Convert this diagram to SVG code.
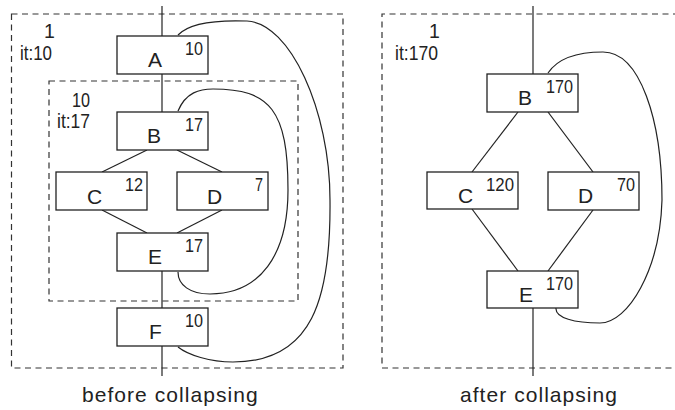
<svg xmlns="http://www.w3.org/2000/svg" width="675" height="410" viewBox="0 0 675 410">
  <style>
    .frame { fill: none; stroke: #333; stroke-width: 1.2; stroke-dasharray: 6 4.5; }
    .box { fill: #fff; stroke: #222; stroke-width: 1.3; }
    .edge { fill: none; stroke: #222; stroke-width: 1.2; }
    .name { font-family: "Liberation Sans", Arial, sans-serif; font-size: 21px; fill: #222; }
    .count { font-family: "Liberation Sans", Arial, sans-serif; font-size: 18.5px; fill: #222; text-anchor: end; }
    .loop { font-family: "Liberation Sans", Arial, sans-serif; font-size: 19.5px; fill: #222; }
    .caption { font-family: "Liberation Sans", Arial, sans-serif; font-size: 21px; fill: #222; letter-spacing: 1.05px; }
  </style>
  <rect width="675" height="410" fill="#fff"/>

  <!-- loop frames -->
  <g id="frames">
    <rect class="frame" x="11.5" y="14" width="331.5" height="354"/>
    <rect class="frame" x="49" y="81" width="249" height="220"/>
    <path class="frame" d="M700,14 H382 V368 H700"/>
  </g>

  <!-- loop annotations -->
  <g id="loop-labels">
    <text class="loop" x="44" y="38">1</text>
    <text class="loop" x="20" y="60" textLength="32" lengthAdjust="spacingAndGlyphs">it:10</text>
    <text class="loop" x="72" y="107" textLength="18" lengthAdjust="spacingAndGlyphs">10</text>
    <text class="loop" x="57" y="128" textLength="33" lengthAdjust="spacingAndGlyphs">it:17</text>
    <text class="loop" x="429" y="38">1</text>
    <text class="loop" x="395" y="60" textLength="43" lengthAdjust="spacingAndGlyphs">it:170</text>
  </g>

  <!-- connectors -->
  <g id="connectors">
    <!-- before collapsing -->
    <line class="edge" x1="162" y1="6" x2="162" y2="36"/>
    <line class="edge" x1="162" y1="74" x2="162" y2="112"/>
    <line class="edge" x1="147" y1="150" x2="102" y2="172"/>
    <line class="edge" x1="177" y1="150" x2="222" y2="172"/>
    <line class="edge" x1="102" y1="210" x2="147" y2="233"/>
    <line class="edge" x1="222" y1="210" x2="177" y2="233"/>
    <line class="edge" x1="162" y1="271" x2="162" y2="308"/>
    <line class="edge" x1="162" y1="346" x2="162" y2="376"/>
    <path class="edge" d="M178,111 C186,92 200,89 213,89 C270,89 288,110 288,190 C288,255 260,294 210,294 C190,294 178,285 178,272"/>
    <path class="edge" d="M178,35 C190,22 220,20 247,21 C290,23 330,110 330,200 C331,300 312,362 233,362 C210,362 188,355 178,347"/>
    <!-- after collapsing -->
    <line class="edge" x1="533" y1="6" x2="533" y2="74"/>
    <line class="edge" x1="518" y1="112" x2="472" y2="172"/>
    <line class="edge" x1="548" y1="112" x2="593" y2="172"/>
    <line class="edge" x1="472" y1="209" x2="518" y2="271"/>
    <line class="edge" x1="593" y1="210" x2="548" y2="271"/>
    <line class="edge" x1="533" y1="308" x2="533" y2="376"/>
    <path class="edge" d="M548,73 C560,55 585,52 603,52 C640,52 662,120 662,200 C660,270 628,323 600,323 C575,323 555,318 556,308"/>
  </g>

  <!-- before collapsing: nodes -->
  <g id="node-A">
    <rect class="box" x="117" y="36" width="91" height="38"/>
    <text class="name" x="148" y="67">A</text>
    <text class="count" x="203" y="55" textLength="18" lengthAdjust="spacingAndGlyphs">10</text>
  </g>
  <g id="node-B">
    <rect class="box" x="117" y="112" width="91" height="38"/>
    <text class="name" x="147" y="143">B</text>
    <text class="count" x="203" y="131" textLength="18" lengthAdjust="spacingAndGlyphs">17</text>
  </g>
  <g id="node-C">
    <rect class="box" x="56" y="172" width="91" height="38"/>
    <text class="name" x="87" y="204">C</text>
    <text class="count" x="143" y="191" textLength="18" lengthAdjust="spacingAndGlyphs">12</text>
  </g>
  <g id="node-D">
    <rect class="box" x="177" y="172" width="91" height="38"/>
    <text class="name" x="207" y="204">D</text>
    <text class="count" x="263" y="191" textLength="8" lengthAdjust="spacingAndGlyphs">7</text>
  </g>
  <g id="node-E">
    <rect class="box" x="117" y="233" width="91" height="38"/>
    <text class="name" x="148" y="264">E</text>
    <text class="count" x="203" y="252" textLength="18" lengthAdjust="spacingAndGlyphs">17</text>
  </g>
  <g id="node-F">
    <rect class="box" x="117" y="308" width="91" height="38"/>
    <text class="name" x="149" y="339">F</text>
    <text class="count" x="203" y="327" textLength="18" lengthAdjust="spacingAndGlyphs">10</text>
  </g>

  <!-- after collapsing: nodes -->
  <g id="node-B2">
    <rect class="box" x="487" y="74" width="91" height="38"/>
    <text class="name" x="518" y="105">B</text>
    <text class="count" x="573" y="93" textLength="27" lengthAdjust="spacingAndGlyphs">170</text>
  </g>
  <g id="node-C2">
    <rect class="box" x="427" y="172" width="91" height="37"/>
    <text class="name" x="458" y="203">C</text>
    <text class="count" x="514" y="191" textLength="28" lengthAdjust="spacingAndGlyphs">120</text>
  </g>
  <g id="node-D2">
    <rect class="box" x="548" y="172" width="91" height="38"/>
    <text class="name" x="578" y="203">D</text>
    <text class="count" x="635" y="191" textLength="18" lengthAdjust="spacingAndGlyphs">70</text>
  </g>
  <g id="node-E2">
    <rect class="box" x="487" y="271" width="91" height="37"/>
    <text class="name" x="519" y="302">E</text>
    <text class="count" x="573" y="290" textLength="27" lengthAdjust="spacingAndGlyphs">170</text>
  </g>

  <!-- captions -->
  <g id="captions">
    <text class="caption" x="82" y="402">before collapsing</text>
    <text class="caption" x="460" y="402">after collapsing</text>
  </g>
</svg>
